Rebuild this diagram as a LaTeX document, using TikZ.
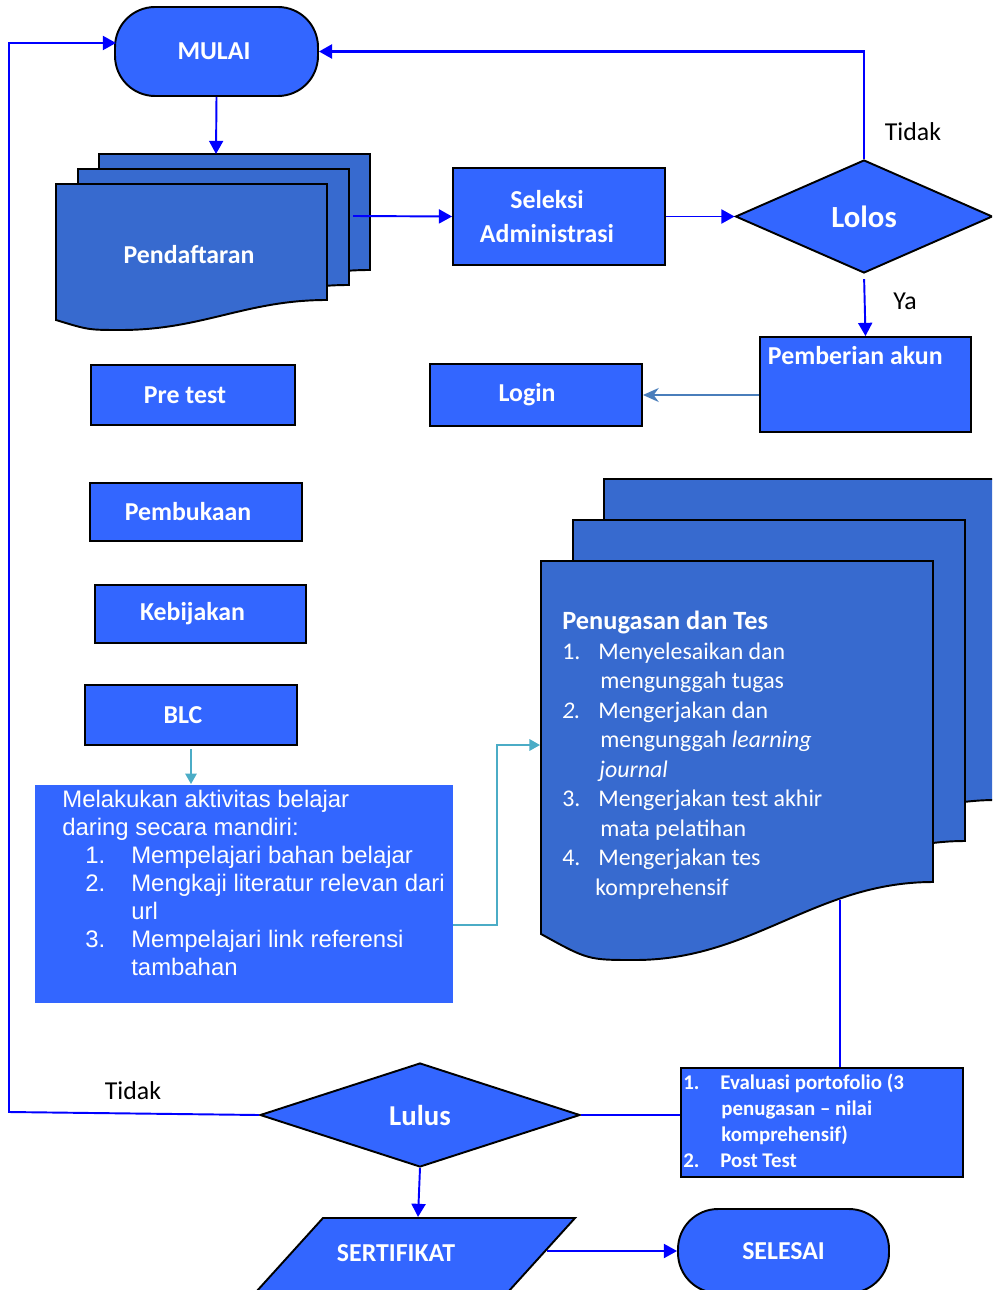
\documentclass[tikz,border=0pt]{standalone}
\usepackage{fontspec}
\setmainfont{Carlito}
\newfontfamily\arialfont{Liberation Sans}
\usetikzlibrary{shapes.geometric, arrows.meta, positioning}
\definecolor{birukotak}{HTML}{3366FF}
\definecolor{birudok}{HTML}{376ACF}
\definecolor{birugaris}{HTML}{0000FF}
\definecolor{tosca}{HTML}{4BACC6}
\definecolor{birubaja}{HTML}{4A7EBB}
\tikzset{
  kotak/.style={rectangle, draw=black, line width=1.1pt, fill=birukotak, text=white, inner sep=0pt,
    font=\fontsize{14.7pt}{19.8pt}\selectfont\bfseries, align=center},
  terminal/.style={kotak, rounded corners=0.8cm},
  keputusan/.style={diamond, draw=black, line width=1.1pt, fill=birukotak, text=white, inner sep=0pt,
    font=\fontsize{17.5pt}{20pt}\selectfont\bfseries},
  dok/.style={fill=birudok, draw=black, line width=1.1pt},
  panah/.style={-{Triangle[length=7.5pt, width=8pt]}, draw=birugaris, line width=1.1pt},
  garis/.style={draw=birugaris, line width=1.1pt},
  panahtosca/.style={-{Triangle[length=6pt, width=6.5pt]}, draw=tosca, line width=1pt},
  ket/.style={font=\fontsize{14.7pt}{18pt}\selectfont, inner sep=0pt},
}
% halaman dokumen: x, y, lebar, tinggi sisi kanan, turun gelombang
\newcommand{\halaman}[5]{%
  \draw[dok] (#1,#2) -- ++(#3,0) -- ++(0,#4)
    .. controls +(-0.3*#3,0) and +(0.3*#3,0) .. ++(-0.76*#3,#5)
    .. controls +(-0.12*#3,0) .. ++(-0.24*#3,-#5/3) -- cycle;
}
% teks sedikit ke kiri dari tengah kotak
\newcommand{\kiri}[2][0.32cm]{\hspace*{-#1}#2}

\begin{document}
\begin{tikzpicture}[x=0.02cm, y=-0.02cm]
  \useasboundingbox (0,0) rectangle (992,1290);
  \clip (0,0) rectangle (992,1290);

  % baris atas
  \node[terminal, minimum width=4.06cm, minimum height=1.78cm] (mulai) at (216.5,51.5) {\kiri[0.1cm]{MULAI}};
  \halaman{99}{154}{271}{116}{30}
  \halaman{78}{169}{271}{116}{30}
  \halaman{56}{184}{271}{116}{30}
  \node[kotak, draw=none, fill=none] (daftar) at (189,255) {Pendaftaran};
  \coordinate (daftaratas) at (216,154);
  \coordinate (daftarkanan) at (353,216);
  \node[kotak, minimum width=4.24cm, minimum height=1.94cm] (seleksi) at (559,216.5)
    {\kiri[0.48cm]{Seleksi}\\\kiri[0.48cm]{Administrasi}};
  \node[keputusan, minimum width=5.14cm, minimum height=2.26cm] (lolos) at (864,216.5) {Lolos};
  \node[kotak, minimum width=4.22cm, minimum height=1.9cm] (akun) at (865.5,384.5) {};
  \node[kotak, draw=none, fill=none, anchor=west] (akunteks) at (767,356) {Pemberian akun};
  \node[kotak, minimum width=4.24cm, minimum height=1.24cm] (login) at (536,395) {\kiri[0.36cm]{Login}};

  % kolom kiri
  \node[kotak, minimum width=4.08cm, minimum height=1.2cm] (pretest) at (193,395) {\kiri{Pre test}};
  \node[kotak, minimum width=4.24cm, minimum height=1.16cm] (pembukaan) at (196,512) {\kiri{Pembukaan}};
  \node[kotak, minimum width=4.22cm, minimum height=1.16cm] (kebijakan) at (200.5,614) {\kiri{Kebijakan}};
  \node[kotak, minimum width=4.24cm, minimum height=1.2cm] (blc) at (191,715) {\kiri{BLC}};
  \node[kotak, draw=none, minimum width=8.36cm, minimum height=4.36cm] (aktivitas) at (244,894) {};
  \node[anchor=north west, inner sep=0pt, text=white, align=left,
    font=\arialfont\fontsize{13.6pt}{15.9pt}\selectfont] (aktteks) at (62,790) {%
    Melakukan aktivitas belajar\\
    daring secara mandiri:\\
    \hspace*{0.46cm}\makebox[0.92cm][l]{1.}Mempelajari bahan belajar\\
    \hspace*{0.46cm}\makebox[0.92cm][l]{2.}Mengkaji literatur relevan dari\\
    \hspace*{1.38cm}url\\
    \hspace*{0.46cm}\makebox[0.92cm][l]{3.}Mempelajari link referensi\\
    \hspace*{1.38cm}tambahan};
  \coordinate (aktkanan) at (453,925);

  % penugasan
  \halaman{604}{479}{392}{321}{78}
  \halaman{573}{520}{392}{321}{78}
  \halaman{541}{561}{392}{321}{78}
  \node[anchor=north west, inner sep=0pt, text=white, align=left,
    font=\fontsize{13.6pt}{16.8pt}\selectfont] (tugas) at (562,611) {%
    {\fontsize{15pt}{16.8pt}\selectfont\bfseries Penugasan dan Tes}\\
    \makebox[0.72cm][l]{1.}Menyelesaikan dan\\
    \hspace*{0.76cm}mengunggah tugas\\
    \makebox[0.72cm][l]{\itshape 2.}Mengerjakan dan\\
    \hspace*{0.76cm}mengunggah \textit{learning}\\
    \hspace*{0.74cm}\textit{journal}\\
    \makebox[0.72cm][l]{3.}Mengerjakan test akhir\\
    \hspace*{0.76cm}mata pelatihan\\
    \makebox[0.72cm][l]{4.}Mengerjakan tes\\
    \hspace*{0.66cm}komprehensif};
  \coordinate (tugaskiri) at (540,745);
  \coordinate (tugasbawah) at (840,900);

  % baris bawah
  \node[kotak, minimum width=5.64cm, minimum height=2.18cm] (evaluasi) at (822,1122.5) {};
  \node[anchor=north west, inner sep=0pt, text=white, align=left,
    font=\fontsize{11.9pt}{14.7pt}\selectfont\bfseries] (evalteks) at (683,1074) {%
    \makebox[0.74cm][l]{1.}Evaluasi portofolio (3\\
    \hspace*{0.76cm}penugasan -- nilai\\
    \hspace*{0.76cm}komprehensif)\\
    \makebox[0.74cm][l]{2.}Post Test};
  \node[keputusan, minimum width=6.4cm, minimum height=2.08cm,
    font=\fontsize{16.4pt}{20pt}\selectfont\bfseries] (lulus) at (420,1115) {Lulus};
  \draw[kotak] (323,1218) -- (575,1218) -- (508,1292) -- (256,1292) -- cycle;
  \node[kotak, draw=none, fill=none] (sertifikat) at (396,1253) {SERTIFIKAT};
  \coordinate (sertatas) at (418,1217);
  \coordinate (sertkanan) at (547,1251);
  \node[terminal, minimum width=4.22cm, minimum height=1.68cm] (selesai) at (783.5,1251) {SELESAI};
  \coordinate (pojokkiri) at (9,1112);
  \coordinate (mulaikiri) at (116,43);

  % label
  \node[ket] (tidakatas) at (913,132) {Tidak};
  \node[ket] (ya) at (905,301) {Ya};
  \node[ket] (tidakbawah) at (133,1091) {Tidak};

  % panah
  \draw[panah] (mulai.south) -- (daftaratas);
  \draw[panah] (daftarkanan) -- (seleksi.west);
  \draw[panah] (seleksi.east) -- (lolos.west);
  \draw[panah, line width=1.4pt] (lolos.north) |- (mulai.east);
  \draw[panah, shorten <=3pt] (lolos.south) -- (akun.north);
  \draw[-{Stealth[length=9pt, width=8pt]}, draw=birubaja, line width=0.9pt] (akun.west |- login.east) -- (login.east);
  \draw[panahtosca, shorten <=2pt] (blc.south) -- (blc.south |- aktivitas.north);
  \draw[panahtosca] (aktkanan) -- ++(44,0) |- (tugaskiri);
  \draw[garis] (tugasbawah) -- (tugasbawah |- evaluasi.north);
  \draw[garis] (evaluasi.west |- lulus.east) -- (lulus.east);
  \draw[panah] (lulus.west) -- (pojokkiri) |- (mulaikiri);
  \draw[panah] (lulus.south) -- (sertatas);
  \draw[panah] (sertkanan) -- (selesai.west);
\end{tikzpicture}
\end{document}
